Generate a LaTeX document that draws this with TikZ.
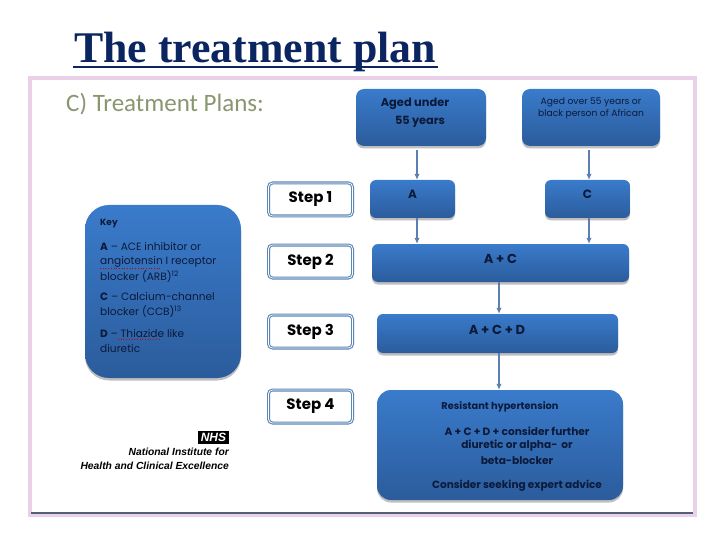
\documentclass[tikz,border=0pt]{standalone}
\usepackage{fontspec}
\setmainfont{Poppins}
\newfontfamily\titlefont{Liberation Serif}
\newfontfamily\headfont{Carlito}
\newfontfamily\logofont{Liberation Sans}
\usetikzlibrary{shadows,arrows.meta}
\definecolor{bluetop}{HTML}{3A7BCB}
\definecolor{bluebot}{HTML}{2B5C9C}
\definecolor{inktxt}{HTML}{0C1A3A}
\definecolor{framepink}{HTML}{EBD0EA}
\definecolor{stepblue}{HTML}{5A86B8}
\definecolor{arrowblue}{HTML}{5B7FB0}
\definecolor{titleblue}{HTML}{0A2560}
\definecolor{olivegray}{HTML}{8A9670}
\tikzset{
  x=1pt,y=-1pt,
  bluebox/.style={rectangle,top color=bluetop,bottom color=bluebot,draw=none,
    drop shadow={shadow xshift=0pt,shadow yshift=-2.5pt,opacity=.25,fill=black},
    inner sep=0pt},
  stepbox/.style={rectangle,draw=stepblue,line width=3pt,fill=white,rounded corners=4pt,
    minimum width=84pt,minimum height=33pt,inner sep=0pt,
    font=\fontsize{15}{15}\selectfont\bfseries,text=black,
    postaction={draw=white,line width=.8pt}},
  flow/.style={draw=arrowblue,line width=1.1pt,-{Latex[length=6pt,width=5.5pt]}},
  flowtxt/.style={text=inktxt,inner sep=0pt,font=\fontsize{#1}{#1}\selectfont\bfseries},
  overtxt/.style={text=inktxt,inner sep=0pt,font=\fontsize{9.2}{9.2}\selectfont},
  keytxt/.style={text=inktxt,inner sep=0pt,anchor=west,font=\fontsize{10.6}{10.6}\selectfont},
  restxt/.style={text=inktxt,inner sep=0pt,font=\fontsize{#1}{#1}\selectfont\bfseries},
  logotxt/.style={inner sep=0pt,anchor=east,text=black,font=\logofont\fontsize{10.3}{10.3}\selectfont\bfseries\itshape},
  squiggle/.style={draw=red!75!black,line width=.7pt,dotted}
}
\begin{document}
\begin{tikzpicture}
\useasboundingbox (0,0) rectangle (720,540);
\fill[white] (0,0) rectangle (720,540);
% title
\node[anchor=base west,inner sep=0pt,text=titleblue,font=\titlefont\fontsize{43.8}{43.8}\selectfont\bfseries] (title) at (74,63) {The treatment plan};
\draw[titleblue,line width=2.6pt] (73,67) -- (438,67);
% frame
\draw[framepink,line width=3.5pt] (30,78) rectangle (695,515);
\draw[inktxt!70!white,line width=1.3pt] (31,513) -- (693,513);
% heading
\node[anchor=west,inner sep=0pt,text=olivegray,font=\headfont\fontsize{25}{25}\selectfont] (head) at (66,104) {C) Treatment Plans:};
% flow boxes
\node[bluebox,rounded corners=8pt,minimum width=130pt,minimum height=57pt] (aged) at (421,117.5) {};
\node[bluebox,rounded corners=8pt,minimum width=138pt,minimum height=57pt] (over) at (591,117.5) {};
\node[bluebox,rounded corners=6pt,minimum width=85pt,minimum height=38pt] (a) at (412.5,199) {};
\node[bluebox,rounded corners=6pt,minimum width=85pt,minimum height=38pt] (c) at (587.5,199) {};
\node[bluebox,rounded corners=6pt,minimum width=257pt,minimum height=38pt] (ac) at (500.5,263) {};
\node[bluebox,rounded corners=6pt,minimum width=241pt,minimum height=39pt] (acd) at (497.5,333.5) {};
\node[bluebox,rounded corners=14pt,minimum width=246pt,minimum height=110pt] (res) at (500,445) {};
\node[bluebox,rounded corners=24pt,minimum width=156pt,minimum height=173pt] (key) at (163,291.5) {};
% flow text
\node[flowtxt=11.4] (t1) at (415,104) {Aged under};
\node[flowtxt=11.3] (t2) at (420,121.5) {55 years};
\node[overtxt] (t3) at (591,102) {Aged over 55 years or};
\node[overtxt] (t4) at (591,114) {black person of African};
\node[flowtxt=12] (ta) at (412.5,194.5) {A};
\node[flowtxt=12] (tc) at (587.5,194.5) {C};
\node[flowtxt=13] (tac) at (500.5,258.5) {A + C};
\node[flowtxt=13] (tacd) at (497,329.5) {A + C + D};
\node[restxt=9.8] (r1) at (500,406.5) {Resistant hypertension};
\node[restxt=10.6] (r2) at (517,431) {A + C + D + consider further};
\node[restxt=10.6] (r3) at (517,446) {diuretic or alpha-\, or};
\node[restxt=10.6] (r4) at (517,461) {beta-blocker};
\node[restxt=10.5] (r5) at (517,486) {Consider seeking expert advice};
% key text
\node[keytxt,font=\fontsize{9}{9}\selectfont\bfseries] (k0) at (100,224) {Key};
\node[keytxt] (k1) at (100,247) {\textbf{A} -- ACE inhibitor or};
\node[keytxt] (k2) at (100,262) {angiotensin I receptor};
\node[keytxt] (k3) at (100,277) {blocker (ARB)\textsuperscript{12}};
\node[keytxt] (k4) at (100,297) {\textbf{C} -- Calcium-channel};
\node[keytxt] (k5) at (100,312) {blocker (CCB)\textsuperscript{13}};
\node[keytxt] (k6) at (100,334) {\textbf{D} -- Thiazide like};
\node[keytxt] (k7) at (100,349) {diuretic};
\draw[squiggle] (100,268.5) -- (161,268.5);
\draw[squiggle] (118,339.5) -- (160,339.5);
% steps
\node[stepbox] (s1) at (310.5,199.5) {Step 1};
\node[stepbox] (s2) at (310.5,261.5) {Step 2};
\node[stepbox] (s3) at (310.5,331.5) {Step 3};
\node[stepbox] (s4) at (310.5,406.5) {Step 4};
% connectors
\draw[flow] ([xshift=-4pt,yshift=-4pt]aged.south) -- ([xshift=4.5pt]a.north);
\draw[flow] ([xshift=-2pt,yshift=-4pt]over.south) -- ([xshift=1.5pt]c.north);
\draw[flow] ([xshift=4.5pt]a.south) -- ([xshift=4.5pt]a.south |- ac.north);
\draw[flow] ([xshift=1.5pt]c.south) -- ([xshift=1.5pt]c.south |- ac.north);
\draw[flow] ([xshift=-1.5pt]ac.south) -- ([xshift=1.5pt]acd.north);
\draw[flow] ([xshift=1.5pt]acd.south) -- ([xshift=-1pt]res.north);
% logo
\node[fill=black,inner sep=0pt,minimum width=31pt,minimum height=13pt,text=white,font=\logofont\fontsize{12}{12}\selectfont\bfseries\itshape] (nhs) at (213.5,437.5) {NHS};
\node[logotxt] (l1) at (229,452) {National Institute for};
\node[logotxt] (l2) at (229,465.5) {Health and Clinical Excellence};
\end{tikzpicture}
\end{document}
